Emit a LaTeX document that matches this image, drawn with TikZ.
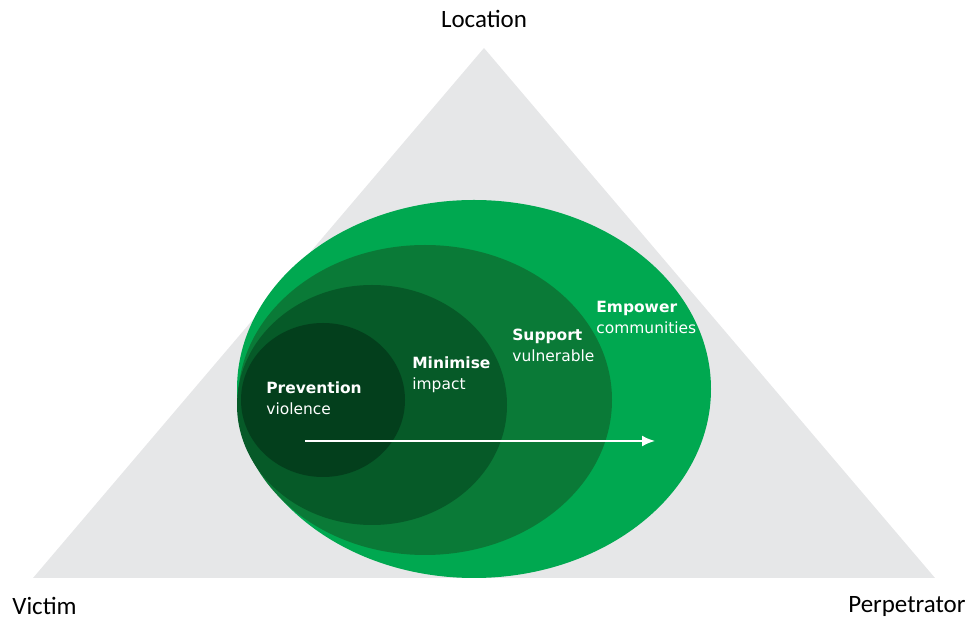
\documentclass[tikz,border=0pt]{standalone}
\usepackage{fontspec}
\setmainfont{Carlito}
\newfontfamily\ringfont{DejaVu Sans}
\usetikzlibrary{arrows.meta}

\definecolor{triangle}{RGB}{230,231,232}
\definecolor{empower}{RGB}{0,168,80}
\definecolor{support}{RGB}{10,122,55}
\definecolor{minimise}{RGB}{6,90,40}
\definecolor{prevent}{RGB}{3,63,28}

\tikzset{
	corner/.style={font=\fontsize{14.2}{16}\selectfont, inner sep=0pt},
	ring/.style={font=\ringfont\fontsize{8.8}{12}\selectfont, text=white, align=left, anchor=north west, inner sep=0pt}
}

\begin{document}
\begin{tikzpicture}
	\useasboundingbox (0,0) rectangle (19.56,12.38);
	\fill[triangle] (9.68,11.42) -- (18.70,0.82) -- (0.66,0.82) -- cycle;
	
	\fill[empower] (9.48,4.60) ellipse (4.74cm and 3.78cm);
	\fill[support] (8.50,4.38) ellipse (3.74cm and 3.10cm);
	\fill[minimise] (7.44,4.28) ellipse (2.70cm and 2.40cm);
	\fill[prevent] (6.46,4.38) ellipse (1.64cm and 1.54cm);
	
	\coordinate (start) at (6.10,3.56);
	\coordinate (finish) at (13.10,3.56);
	\draw[white, line width=1.1pt, -{Latex[length=2.6mm, width=2.2mm]}] (start) -- (finish);
	
	\node[ring] (prevention) at (5.32,4.76) {\textbf{Prevention}\\violence};
	\node[ring] (minimise) at (8.24,5.26) {\textbf{Minimise}\\impact};
	\node[ring] (support) at (10.24,5.80) {\textbf{Support}\\vulnerable};
	\node[ring] (empower) at (11.92,6.36) {\textbf{Empower}\\communities};
	
	\node[corner, anchor=base] (location) at (9.68,11.82) {Location};
	\node[corner, anchor=base west] (victim) at (0.24,0.08) {Victim};
	\node[corner, anchor=base west] (perpetrator) at (16.96,0.12) {Perpetrator};
\end{tikzpicture}
\end{document}
